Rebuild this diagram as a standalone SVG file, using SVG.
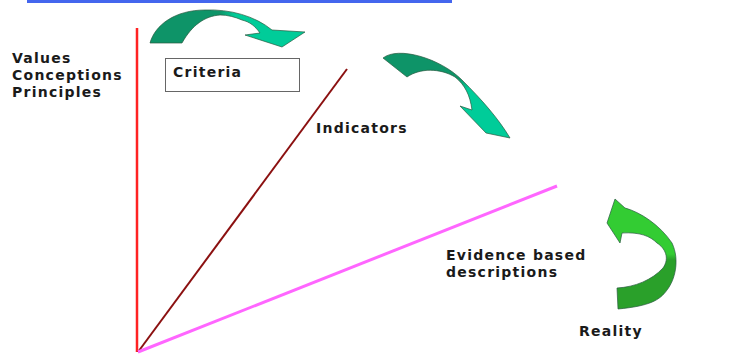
<svg xmlns="http://www.w3.org/2000/svg" width="743" height="354" viewBox="0 0 743 354">
<defs>
<linearGradient id="gA" x1="0" y1="0" x2="1" y2="0"><stop offset="0" stop-color="#0e9468"/><stop offset="0.45" stop-color="#0e9468"/><stop offset="0.55" stop-color="#00cc99"/><stop offset="1" stop-color="#00cc99"/></linearGradient>
<linearGradient id="gB" x1="0" y1="0" x2="1" y2="1"><stop offset="0" stop-color="#0e9468"/><stop offset="0.45" stop-color="#0e9468"/><stop offset="0.55" stop-color="#00cc99"/><stop offset="1" stop-color="#00cc99"/></linearGradient>
<linearGradient id="gC" x1="0" y1="0" x2="0" y2="1"><stop offset="0" stop-color="#33cc33"/><stop offset="0.5" stop-color="#33cc33"/><stop offset="0.55" stop-color="#2aa02a"/><stop offset="1" stop-color="#2aa02a"/></linearGradient>
</defs>
<style>
text{font-family:"DejaVu Sans",Verdana,sans-serif;font-weight:bold;font-size:14px;letter-spacing:1.25px;fill:#1a1a1a}
.arr{stroke:#2a5a40;stroke-width:0.7}
</style>
<rect x="27" y="0" width="425" height="3" fill="#4466ee"/>
<g id="connectors">
<line x1="137" y1="28" x2="137" y2="352" stroke="#ff2222" stroke-width="2.5"/>
<line x1="138" y1="352" x2="347" y2="69" stroke="#8b1010" stroke-width="2"/>
<line x1="138" y1="352" x2="557" y2="186" stroke="#ff66ff" stroke-width="3"/>
</g>
<g id="arrow1"><path class="arr" fill="url(#gA)" d="M150,43 C155,25 175,10 205,10 C230,9 255,16 272,30 L305,32 L282,47 L245,35 L260,33 C255,26 250,22 242,20 C235,17 228,15 220,15 C205,16 192,25 182,43 Z"/></g>
<g id="arrow2"><path class="arr" fill="url(#gB)" d="M383,58 C398,46 440,58 462,80 C482,100 498,118 510,138 L486,133 L460,106 L472,110 C470,95 465,85 455,77 C440,68 420,68 407,77 Z"/></g>
<g id="arrow3"><path class="arr" fill="url(#gC)" d="M615,199 L625,208 C640,212 660,225 672,243 C680,260 675,280 667,290 C660,300 650,306 618,309 L617,288 C635,287 652,280 663,268 C670,258 665,248 657,243 C650,236 640,232 622,233 L620,243 L607,223 Z"/></g>
<g id="values"><text x="12" y="63">Values</text><text x="12" y="80">Conceptions</text><text x="12" y="97">Principles</text></g>
<g id="criteria"><rect x="165.5" y="58.5" width="134" height="33" fill="#fff" stroke="#666" stroke-width="1"/><text x="173" y="77">Criteria</text></g>
<g id="indicators"><text x="316" y="133">Indicators</text></g>
<g id="evidence"><text x="446" y="260">Evidence based</text><text x="446" y="277">descriptions</text></g>
<g id="reality"><text x="579" y="336">Reality</text></g>
</svg>
